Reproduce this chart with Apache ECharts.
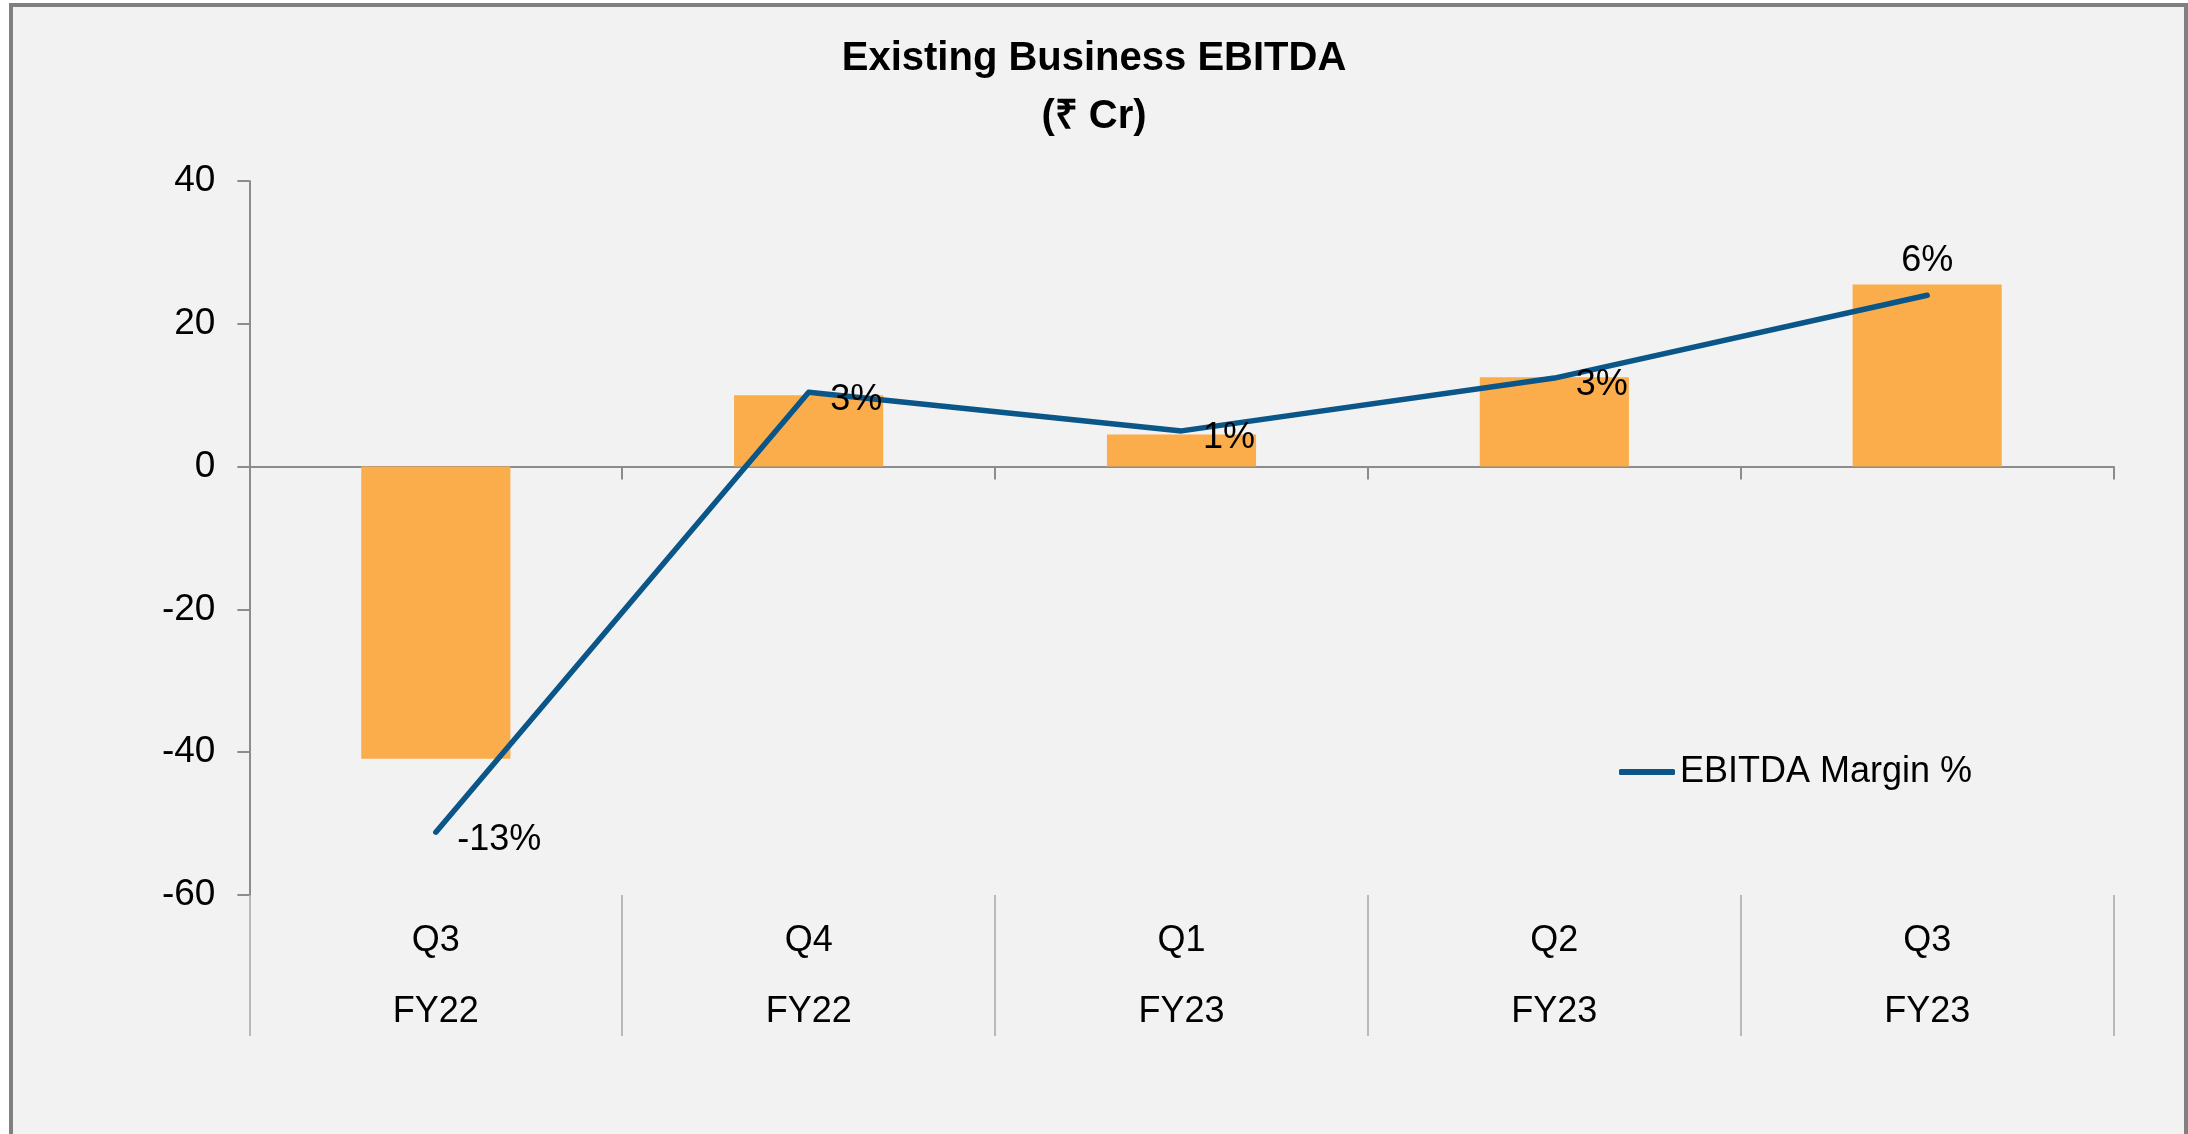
<!DOCTYPE html>
<html>
<head>
<meta charset="utf-8">
<title>Existing Business EBITDA</title>
<script src="https://cdn.jsdelivr.net/npm/echarts@6/dist/echarts.min.js"></script>
<style>
    body { margin:0; background:#ffffff; }
    #frame { position:absolute; left:9px; top:3px; width:2171px; height:1140px; border:4px solid #808080; background:#F2F2F2; }
    #main { position:absolute; left:0; top:0; width:2188px; height:1134px; }
</style>
</head>
<body>
<div id="frame"></div>
<div id="main"></div>
<script>
// data
var quarters = ['Q3', 'Q4', 'Q1', 'Q2', 'Q3'];
var years = ['FY22', 'FY22', 'FY23', 'FY23', 'FY23'];
var ebitda = [-40.9, 10, 4.5, 12.5, 25.5];          // ₹ Cr, bars
var marginPct = [-12.8, 2.6, 1.25, 3.1, 6.0];        // %, line
var yTicks = { min: -60, max: 40, step: 20 };

var cats = [];
for (var i = 0; i < quarters.length; i++) {
    cats.push(quarters[i] + '\n' + years[i]);
}

var font = '"Liberation Sans", Arial, sans-serif';
var gray = '#8C8C8C';
var blue = '#0B5688';

// last point puts its label above the line
var lineData = marginPct.map(function (v, i) {
    if (i === marginPct.length - 1) {
        return { value: v, label: { position: 'top', distance: 16, align: 'center', verticalAlign: 'bottom' } };
    }
    return v;
});

var myChart = echarts.init(document.getElementById('main'));
var option = {
    backgroundColor: 'transparent',
    animation: false,
    title: {
        text: 'Existing Business EBITDA\n(₹ Cr)',
        left: 'center',
        top: 25,
        textStyle: {
            fontFamily: font,
            fontSize: 40,
            fontWeight: 'bold',
            color: '#000',
            lineHeight: 58
        }
    },
    legend: {
        data: [{ name: 'EBITDA Margin %', icon: 'roundRect' }],
        left: 1619,
        top: 754,
        padding: 0,
        itemWidth: 56,
        itemHeight: 6,
        itemGap: 5,
        itemStyle: { color: blue, borderWidth: 0 },
        textStyle: { fontFamily: font, fontSize: 36, color: '#000' }
    },
    grid: { left: 249.4, right: 74.4, top: 181, bottom: 239 },
    xAxis: [
        {
            type: 'category',
            data: cats,
            axisLine: { onZero: true, lineStyle: { color: gray, width: 2 } },
            axisTick: { show: true, length: 13, lineStyle: { color: gray, width: 2 } },
            axisLabel: { show: false }
        },
        {
            type: 'category',
            data: cats,
            position: 'bottom',
            axisLine: { show: false, onZero: false },
            axisTick: { show: true, length: 141, lineStyle: { color: '#A6A6A6', width: 1.5 } },
            axisLabel: {
                margin: 11,
                fontFamily: font,
                fontSize: 36,
                lineHeight: 71,
                color: '#000'
            }
        }
    ],
    yAxis: [
        {
            type: 'value',
            min: yTicks.min,
            max: yTicks.max,
            interval: yTicks.step,
            axisLine: { show: true, lineStyle: { color: gray, width: 2 } },
            axisTick: { show: true, length: 12, lineStyle: { color: gray, width: 2 } },
            splitLine: { show: false },
            axisLabel: { margin: 34, fontFamily: font, fontSize: 37, color: '#000' }
        },
        {
            type: 'value',
            min: -15,
            max: 10,
            show: false,
            splitLine: { show: false }
        }
    ],
    series: [
        {
            name: 'EBITDA',
            type: 'bar',
            xAxisIndex: 0,
            yAxisIndex: 0,
            barWidth: '40%',
            itemStyle: { color: '#FBAC4B' },
            data: ebitda
        },
        {
            name: 'EBITDA Margin %',
            type: 'line',
            xAxisIndex: 0,
            yAxisIndex: 1,
            symbol: 'circle',
            symbolSize: 1,
            showSymbol: true,
            lineStyle: { color: blue, width: 5.5, cap: 'round', join: 'round' },
            itemStyle: { color: blue },
            label: {
                show: true,
                position: [22, 8],
                align: 'left',
                verticalAlign: 'middle',
                fontFamily: font,
                fontSize: 36,
                color: '#000',
                formatter: function (p) { return Math.round(p.value) + '%'; }
            },
            labelLayout: { hideOverlap: false },
            data: lineData
        }
    ]
};
myChart.setOption(option);
</script>
</body>
</html>
